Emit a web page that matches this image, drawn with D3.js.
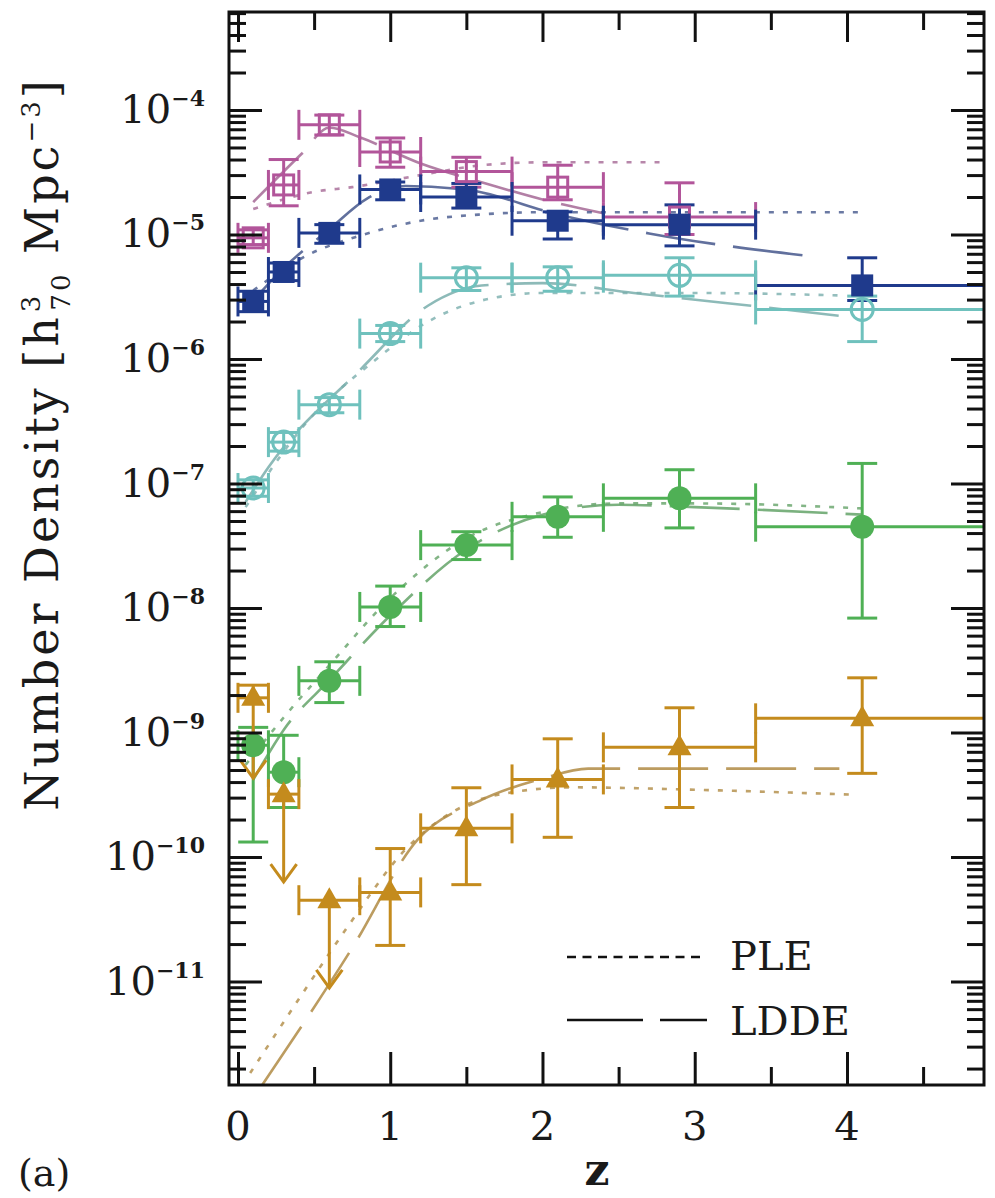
<!DOCTYPE html>
<html>
<head>
<meta charset="utf-8">
<script src="https://cdnjs.cloudflare.com/ajax/libs/d3/7.8.5/d3.min.js"></script>
<style>
  body { margin: 0; background: #fff; }
  text { font-family: "DejaVu Serif", serif; fill: #1a1a1a; }
</style>
</head>
<body>
<div id="plot-container"></div>
<script>
// redshift bins (centre and edges)
var zMid = [0.1, 0.3, 0.6, 1.0, 1.5, 2.1, 2.9, 4.1];
var zLo  = [0.0, 0.2, 0.4, 0.8, 1.2, 1.8, 2.4, 3.4];
var zHi  = [0.2, 0.4, 0.8, 1.2, 1.8, 2.4, 3.4, 5.0];

// measured densities (open squares, magenta)
var pinkVal = [9.4e-6, 2.5e-5, 7.6e-5, 4.6e-5, 3.2e-5, 2.4e-5, 1.38e-5];
var pinkHi  = [1.09e-5, 4.0e-5, 9.1e-5, 5.96e-5, 4.17e-5, 3.6e-5, 2.6e-5];
var pinkLo  = [8.3e-6, 1.7e-5, 6.3e-5, 3.47e-5, 2.4e-5, 1.9e-5, 1.0e-5];

// filled squares, dark blue
var blueVal = [2.9e-6, 5.0e-6, 1.03e-5, 2.3e-5, 2.0e-5, 1.29e-5, 1.2e-5, 3.9e-6];
var blueHi  = [3.5e-6, 5.9e-6, 1.2e-5, 2.64e-5, 2.57e-5, 1.52e-5, 1.73e-5, 6.5e-6];
var blueLo  = [2.4e-6, 4.26e-6, 8.5e-6, 1.9e-5, 1.63e-5, 9.2e-6, 8.1e-6, 2.95e-6];

// open circles, cyan
var cyanVal = [9.2e-8, 2.15e-7, 4.3e-7, 1.6e-6, 4.5e-6, 4.5e-6, 4.7e-6, 2.5e-6];
var cyanHi  = [1.07e-7, 2.57e-7, 4.9e-7, 1.86e-6, 5.4e-6, 5.5e-6, 6.5e-6, 3.2e-6];
var cyanLo  = [7.9e-8, 1.82e-7, 3.7e-7, 1.38e-6, 3.55e-6, 3.5e-6, 3.2e-6, 1.38e-6];

// filled circles, green
var greenVal = [7.9e-10, 4.8e-10, 2.6e-9, 1.02e-8, 3.2e-8, 5.4e-8, 7.6e-8, 4.5e-8];
var greenHi  = [1.1e-9, 9.5e-10, 3.7e-9, 1.5e-8, 4.1e-8, 7.8e-8, 1.29e-7, 1.45e-7];
var greenLo  = [1.32e-10, 2.5e-10, 1.74e-9, 7.1e-9, 2.45e-8, 3.7e-8, 4.4e-8, 8.3e-9];

// filled triangles, gold (first three are upper limits)
var goldVal = [1.9e-9, 3.2e-10, 4.5e-11, 5.2e-11, 1.7e-10, 4.2e-10, 7.6e-10, 1.3e-9];
var goldHi  = [2.4e-9, null, null, 1.17e-10, 3.6e-10, 8.9e-10, 1.58e-9, 2.75e-9];
var goldLo  = [4.3e-10, 6.3e-11, 8.9e-12, 1.95e-11, 6.0e-11, 1.44e-10, 2.5e-10, 4.7e-10];
var goldLimit = [true, true, true, false, false, false, false, false];

// model curves: PLE (dotted) and LDDE (long dash)
var pinkPleZ  = [0.1, 0.5, 0.75, 1.2, 1.6, 2.0, 2.82];
var pinkPle   = [1.6e-5, 2.2e-5, 2.4e-5, 3.0e-5, 3.6e-5, 3.8e-5, 3.8e-5];
var pinkLddeZ = [0.1, 0.42, 0.6, 0.8, 1.2, 1.6, 2.0, 2.4];
var pinkLdde  = [1.82e-5, 4.47e-5, 7.24e-5, 6.03e-5, 3.72e-5, 2.63e-5, 1.91e-5, 1.48e-5];

var bluePleZ  = [0.1, 0.45, 0.8, 1.2, 1.6, 2.0, 4.1];
var bluePle   = [3.55e-6, 6.76e-6, 9.77e-6, 1.29e-5, 1.45e-5, 1.51e-5, 1.51e-5];
var blueLddeZ = [0.1, 0.3, 0.6, 0.85, 1.1, 1.5, 2.1, 2.7, 3.8];
var blueLdde  = [2.95e-6, 5.37e-6, 1.1e-5, 1.95e-5, 2.45e-5, 2.29e-5, 1.45e-5, 1.02e-5, 6.6e-6];

var cyanPleZ  = [0.05, 0.45, 0.9, 1.25, 1.6, 2.0, 3.0, 3.95];
var cyanPle   = [6.46e-8, 3.09e-7, 9.77e-7, 2.0e-6, 2.95e-6, 3.39e-6, 3.39e-6, 3.24e-6];
var cyanLddeZ = [0.05, 0.2, 0.8, 1.25, 1.6, 2.0, 2.6, 3.2, 4.0];
var cyanLdde  = [7.1e-8, 1.35e-7, 8.13e-7, 2.69e-6, 3.89e-6, 4.07e-6, 3.39e-6, 2.82e-6, 2.19e-6];

var greenPleZ  = [0.05, 0.3, 0.6, 1.0, 1.5, 2.0, 2.5, 3.0, 4.1];
var greenPle   = [5.5e-10, 1.32e-9, 3.47e-9, 1.2e-8, 3.63e-8, 5.89e-8, 6.92e-8, 6.92e-8, 6.31e-8];
var greenLddeZ = [0.1, 0.3, 0.6, 1.0, 1.5, 2.0, 2.5, 3.0, 4.1];
var greenLdde  = [4.17e-10, 1.05e-9, 2.63e-9, 8.7e-9, 2.95e-8, 5.62e-8, 6.76e-8, 6.46e-8, 5.62e-8];

var goldPleZ  = [0.08, 0.4, 0.72, 1.1, 1.5, 1.8, 2.2, 3.0, 4.07];
var goldPle   = [1.84e-12, 7.24e-12, 2.75e-11, 1.15e-10, 2.63e-10, 3.31e-10, 3.63e-10, 3.47e-10, 3.16e-10];
var goldLddeZ = [0.16, 0.75, 1.18, 1.6, 2.0, 2.3, 3.95];
var goldLdde  = [1.48e-12, 1.86e-11, 1.38e-10, 2.88e-10, 4.27e-10, 5.13e-10, 5.13e-10];

// axis ticks
var yMajor = [1e-4, 1e-5, 1e-6, 1e-7, 1e-8, 1e-9, 1e-10, 1e-11];
var yExp   = ["−4", "−5", "−6", "−7", "−8", "−9", "−10", "−11"];
var xMajor = [0, 1, 2, 3, 4];
var xMinor = [0.5, 1.5, 2.5, 3.5, 4.5];

// plot frame
var plotLeft = 229, plotRight = 984, plotTop = 12, plotBottom = 1085;

var xScale = d3.scaleLinear().domain([-0.059, 4.90]).range([plotLeft, plotRight]);
var yScale = d3.scaleLog().domain([Math.pow(10, -3.213), Math.pow(10, -11.831)]).range([plotTop, plotBottom]);

var svg = d3.select("#plot-container")
            .append("svg")
            .attr("width", 995)
            .attr("height", 1198);

svg.append("clipPath").attr("id", "clip")
   .append("rect")
   .attr("x", plotLeft).attr("y", plotTop)
   .attr("width", plotRight - plotLeft).attr("height", plotBottom - plotTop);

var series = [
  { name: "pink",  color: "#b2559a", shape: "openSquare", val: pinkVal, hi: pinkHi, lo: pinkLo,
    pleZ: pinkPleZ, ple: pinkPle, lddeZ: pinkLddeZ, ldde: pinkLdde },
  { name: "blue",  color: "#1f3a8c", shape: "square", val: blueVal, hi: blueHi, lo: blueLo,
    pleZ: bluePleZ, ple: bluePle, lddeZ: blueLddeZ, ldde: blueLdde },
  { name: "cyan",  color: "#6fc1bd", shape: "openCircle", val: cyanVal, hi: cyanHi, lo: cyanLo,
    pleZ: cyanPleZ, ple: cyanPle, lddeZ: cyanLddeZ, ldde: cyanLdde },
  { name: "green", color: "#4fb055", shape: "circle", val: greenVal, hi: greenHi, lo: greenLo,
    pleZ: greenPleZ, ple: greenPle, lddeZ: greenLddeZ, ldde: greenLdde },
  { name: "gold",  color: "#c48b1d", shape: "triangle", val: goldVal, hi: goldHi, lo: goldLo,
    limit: goldLimit, pleZ: goldPleZ, ple: goldPle, lddeZ: goldLddeZ, ldde: goldLdde }
];

var plot = svg.append("g").attr("clip-path", "url(#clip)");

var line = d3.line()
             .x(function(d){ return xScale(d[0]); })
             .y(function(d){ return yScale(d[1]); })
             .curve(d3.curveMonotoneX);

// model curves
series.forEach(function(s){
  var faded = d3.interpolateRgb(s.color, "#8c8c8c")(0.35);
  plot.append("path")
      .datum(d3.zip(s.pleZ, s.ple))
      .attr("d", line)
      .attr("fill", "none")
      .attr("stroke", faded)
      .attr("stroke-width", 2.6)
      .attr("stroke-dasharray", "5,9")
      .attr("opacity", 0.8);
  plot.append("path")
      .datum(d3.zip(s.lddeZ, s.ldde))
      .attr("d", line)
      .attr("fill", "none")
      .attr("stroke", faded)
      .attr("stroke-width", 2.6)
      .attr("stroke-dasharray", "70,18")
      .attr("opacity", 0.85);
});

// error bars
var cap = 15;
series.forEach(function(s){
  var g = plot.append("g")
              .attr("stroke", s.color)
              .attr("stroke-width", 3)
              .attr("fill", "none");
  s.val.forEach(function(v, i){
    var cx = xScale(zMid[i]), cy = yScale(v);
    var x0 = xScale(zLo[i]), x1 = xScale(zHi[i]);
    g.append("line").attr("x1", x0).attr("x2", x1).attr("y1", cy).attr("y2", cy);
    g.append("line").attr("x1", x0).attr("x2", x0).attr("y1", cy - cap).attr("y2", cy + cap);
    g.append("line").attr("x1", x1).attr("x2", x1).attr("y1", cy - cap).attr("y2", cy + cap);

    var isLimit = s.limit && s.limit[i];
    var yTop = s.hi[i] != null ? yScale(s.hi[i]) : cy;
    var yBot = yScale(s.lo[i]);
    g.append("line").attr("x1", cx).attr("x2", cx).attr("y1", yTop).attr("y2", yBot);
    if (s.hi[i] != null) {
      g.append("line").attr("x1", cx - cap).attr("x2", cx + cap).attr("y1", yTop).attr("y2", yTop);
    }
    if (isLimit) {
      g.append("path")
       .attr("d", "M" + (cx - 13) + "," + (yBot - 18) + "L" + cx + "," + yBot + "L" + (cx + 13) + "," + (yBot - 18));
    } else {
      g.append("line").attr("x1", cx - cap).attr("x2", cx + cap).attr("y1", yBot).attr("y2", yBot);
    }
  });
});

// markers
series.forEach(function(s){
  var g = plot.append("g");
  s.val.forEach(function(v, i){
    var cx = xScale(zMid[i]), cy = yScale(v);
    if (s.shape === "openSquare") {
      g.append("rect").attr("x", cx - 10).attr("y", cy - 10).attr("width", 20).attr("height", 20)
       .attr("fill", "none").attr("stroke", s.color).attr("stroke-width", 3);
    } else if (s.shape === "square") {
      g.append("rect").attr("x", cx - 11).attr("y", cy - 11).attr("width", 22).attr("height", 22)
       .attr("fill", s.color);
    } else if (s.shape === "openCircle") {
      g.append("circle").attr("cx", cx).attr("cy", cy).attr("r", 11)
       .attr("fill", "none").attr("stroke", s.color).attr("stroke-width", 3);
    } else if (s.shape === "circle") {
      g.append("circle").attr("cx", cx).attr("cy", cy).attr("r", 12).attr("fill", s.color);
    } else {
      g.append("path")
       .attr("d", "M" + cx + "," + (cy - 13) + "L" + (cx + 12) + "," + (cy + 8) + "L" + (cx - 12) + "," + (cy + 8) + "Z")
       .attr("fill", s.color);
    }
  });
});

// y minor ticks
var yMinor = [];
for (var e = -12; e <= -4; e++) {
  for (var k = 2; k <= 9; k++) {
    var mv = k * Math.pow(10, e);
    if (mv <= yScale.domain()[0] && mv >= yScale.domain()[1]) yMinor.push(mv);
  }
}

function styleAxis(sel) {
  sel.select(".domain").remove();
  sel.selectAll("line").attr("stroke", "#111").attr("stroke-width", 3);
}

// ticks on all four sides, pointing inward
svg.append("g").attr("transform", "translate(" + plotLeft + ",0)")
   .call(d3.axisRight(yScale).tickValues(yMajor).tickSize(33).tickFormat("")).call(styleAxis);
svg.append("g").attr("transform", "translate(" + plotLeft + ",0)")
   .call(d3.axisRight(yScale).tickValues(yMinor).tickSize(17).tickFormat("")).call(styleAxis);
svg.append("g").attr("transform", "translate(" + plotRight + ",0)")
   .call(d3.axisLeft(yScale).tickValues(yMajor).tickSize(33).tickFormat("")).call(styleAxis);
svg.append("g").attr("transform", "translate(" + plotRight + ",0)")
   .call(d3.axisLeft(yScale).tickValues(yMinor).tickSize(17).tickFormat("")).call(styleAxis);
svg.append("g").attr("transform", "translate(0," + plotBottom + ")")
   .call(d3.axisTop(xScale).tickValues(xMajor).tickSize(33).tickFormat("")).call(styleAxis);
svg.append("g").attr("transform", "translate(0," + plotBottom + ")")
   .call(d3.axisTop(xScale).tickValues(xMinor).tickSize(18).tickFormat("")).call(styleAxis);
svg.append("g").attr("transform", "translate(0," + plotTop + ")")
   .call(d3.axisBottom(xScale).tickValues(xMajor).tickSize(30).tickFormat("")).call(styleAxis);
svg.append("g").attr("transform", "translate(0," + plotTop + ")")
   .call(d3.axisBottom(xScale).tickValues(xMinor).tickSize(18).tickFormat("")).call(styleAxis);

// frame
svg.append("rect")
   .attr("x", plotLeft).attr("y", plotTop)
   .attr("width", plotRight - plotLeft).attr("height", plotBottom - plotTop)
   .attr("fill", "none").attr("stroke", "#111").attr("stroke-width", 3);

// y tick labels 10^-n
yMajor.forEach(function(v, i){
  var t = svg.append("text")
             .attr("x", 205)
             .attr("y", yScale(v) + 13)
             .attr("text-anchor", "end")
             .attr("font-size", 40);
  t.append("tspan").text("10");
  t.append("tspan").attr("dy", -17).attr("font-size", 22).attr("font-weight", "bold").text(yExp[i]);
});

// x tick labels
xMajor.forEach(function(v){
  svg.append("text")
     .attr("x", xScale(v))
     .attr("y", 1140)
     .attr("text-anchor", "middle")
     .attr("font-size", 40)
     .text(v);
});

// axis titles
svg.append("text")
   .attr("x", 597).attr("y", 1185)
   .attr("text-anchor", "middle")
   .attr("font-size", 44).attr("font-weight", "bold")
   .text("z");

var yt = svg.append("text")
            .attr("transform", "translate(58,444) rotate(-90)")
            .attr("text-anchor", "middle")
            .attr("font-size", 46)
            .attr("letter-spacing", 3);
yt.append("tspan").text("Number Density [h");
yt.append("tspan").attr("font-size", 26).attr("dy", -18).attr("dx", 2).text("3");
yt.append("tspan").attr("font-size", 26).attr("dy", 30).attr("dx", -18).text("70");
yt.append("tspan").attr("dy", -12).text(" Mpc");
yt.append("tspan").attr("font-size", 26).attr("dy", -18).text("−3");
yt.append("tspan").attr("dy", 18).text("]");

svg.append("text")
   .attr("x", 18).attr("y", 1186)
   .attr("font-size", 38)
   .text("(a)");

// legend
svg.append("line")
   .attr("x1", 567).attr("x2", 705).attr("y1", 957).attr("y2", 957)
   .attr("stroke", "#111").attr("stroke-width", 2.5).attr("stroke-dasharray", "9,6.5");
svg.append("line")
   .attr("x1", 567).attr("x2", 707).attr("y1", 1020).attr("y2", 1020)
   .attr("stroke", "#111").attr("stroke-width", 2.5).attr("stroke-dasharray", "76,17");
svg.append("text").attr("x", 730).attr("y", 970).attr("font-size", 40).text("PLE");
svg.append("text").attr("x", 730).attr("y", 1035).attr("font-size", 40).text("LDDE");
</script>
</body>
</html>
